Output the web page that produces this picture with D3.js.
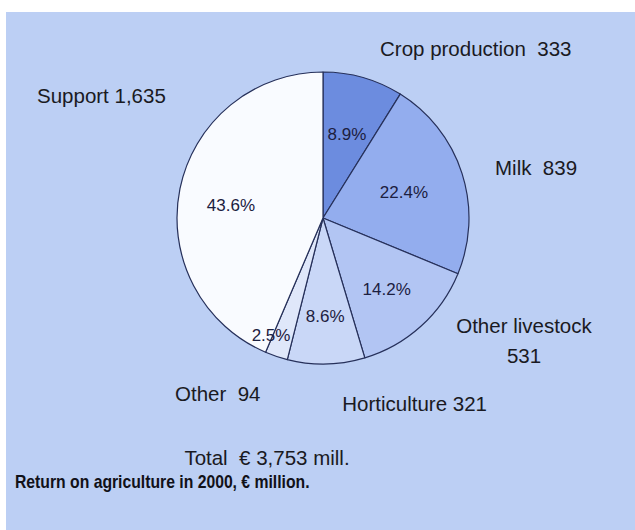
<!DOCTYPE html>
<html>
<head>
<meta charset="utf-8">
<script src="https://cdn.jsdelivr.net/npm/d3@7/dist/d3.min.js"></script>
<style>
  html, body { margin: 0; padding: 0; background: #ffffff; }
  svg { display: block; }
  text { white-space: pre; }
</style>
</head>
<body>
<svg id="chart" width="635" height="530"></svg>
<script>
// Return on agriculture in 2000, € million
const categories = ["Crop production", "Milk", "Other livestock", "Horticulture", "Other", "Support"];
const values = [333, 839, 531, 321, 94, 1635];
const percentLabels = ["8.9%", "22.4%", "14.2%", "8.6%", "2.5%", "43.6%"];
const totalLabel = "Total  \u20AC 3,753 mill.";
const captionLabel = "Return on agriculture in 2000, \u20AC million.";

const sliceColors = ["#6c8cdf", "#93adee", "#b2c5f3", "#c9d7f7", "#dfe7fa", "#f9fbff"];

const svg = d3.select("#chart");
const W = 635, H = 530;

// panel background
svg.append("rect")
  .attr("x", 6).attr("y", 12)
  .attr("width", W - 6).attr("height", H - 12)
  .attr("fill", "#bccff4");

const cx = 323, cy = 218, R = 146;

const pie = d3.pie().sort(null).value(d => d.value);
const arcs = pie(categories.map((c, i) => ({ name: c, value: values[i], pct: percentLabels[i] })));
const arc = d3.arc().innerRadius(0).outerRadius(R);

const g = svg.append("g").attr("transform", `translate(${cx},${cy})`);

g.selectAll("path.slice")
  .data(arcs)
  .join("path")
  .attr("class", "slice")
  .attr("d", arc)
  .attr("fill", (d, i) => sliceColors[i])
  .attr("stroke", "#26305a")
  .attr("stroke-width", 1.2)
  .attr("stroke-linejoin", "round");

// percentage labels: distance from centre and angular nudge (degrees) per slice
const pctRadius = { "Crop production": 87, "Milk": 85, "Other livestock": 95, "Horticulture": 98, "Other": 128, "Support": 93 };
const pctNudge = { "Crop production": 0, "Milk": 0, "Other livestock": 0, "Horticulture": 0, "Other": 5.3, "Support": -3.6 };
g.selectAll("text.pct")
  .data(arcs)
  .join("text")
  .attr("class", "pct")
  .each(function (d) {
    const a = (d.startAngle + d.endAngle) / 2 + pctNudge[d.data.name] * Math.PI / 180;
    const r = pctRadius[d.data.name];
    d3.select(this)
      .attr("x", r * Math.sin(a))
      .attr("y", -r * Math.cos(a));
  })
  .attr("dy", "0.36em")
  .attr("text-anchor", "middle")
  .attr("font-family", "'Liberation Sans', Arial, sans-serif")
  .attr("font-size", 17)
  .attr("fill", "#1c2040")
  .text(d => d.data.pct);

// category labels
const fmt = d3.format(",");
const labelFont = "'Liberation Sans', Arial, sans-serif";
const outer = [
  { lines: [categories[0] + "  " + fmt(values[0])], x: 380, y: 56, anchor: "start" },
  { lines: [categories[1] + "  " + fmt(values[1])], x: 495, y: 175, anchor: "start" },
  { lines: [categories[2], fmt(values[2])], x: 524, y: 333, anchor: "middle" },
  { lines: [categories[3] + " " + fmt(values[3])], x: 487, y: 411, anchor: "end" },
  { lines: [categories[4] + "  " + fmt(values[4])], x: 175, y: 401, anchor: "start" },
  { lines: [categories[5] + " " + fmt(values[5])], x: 37, y: 103, anchor: "start" }
];
outer.forEach(o => {
  const t = svg.append("text")
    .attr("x", o.x).attr("y", o.y)
    .attr("text-anchor", o.anchor)
    .attr("font-family", labelFont)
    .attr("font-size", 20.5)
    .attr("fill", "#1a1a22");
  o.lines.forEach((ln, k) => {
    t.append("tspan").attr("x", o.x).attr("dy", k === 0 ? 0 : 30).text(ln);
  });
});

svg.append("text")
  .attr("x", 267).attr("y", 465)
  .attr("text-anchor", "middle")
  .attr("font-family", labelFont)
  .attr("font-size", 20.5)
  .attr("fill", "#1a1a22")
  .text(totalLabel);

// caption set in a narrowed bold face
svg.append("text")
  .attr("transform", "translate(15,488) scale(0.9,1)")
  .attr("font-family", labelFont)
  .attr("font-size", 17.5)
  .attr("font-weight", "bold")
  .attr("fill", "#111118")
  .text(captionLabel);
</script>
</body>
</html>
